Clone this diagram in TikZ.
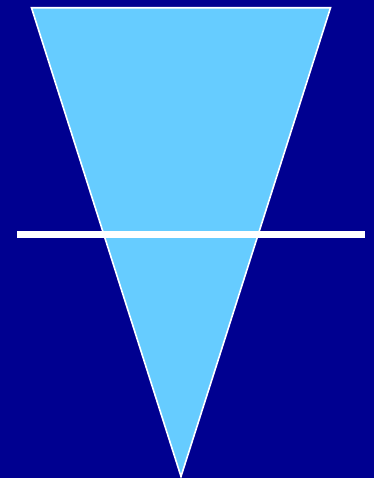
\documentclass[tikz,border=0pt]{standalone}
\usepackage{tikz}
\definecolor{deepblue}{HTML}{000090}
\definecolor{skyfill}{HTML}{66CCFF}

\begin{document}
\begin{tikzpicture}[x=1pt,y=-1pt]
% background
\fill[deepblue] (0,0) rectangle (374,478);
\useasboundingbox (0,0) rectangle (374,478);
% inverted triangle
\coordinate (topleft) at (31.5,7.8);
\coordinate (topright) at (330.5,7.8);
\coordinate (apex) at (181,476.5);
\draw[white,fill=skyfill,line width=1.6pt,line join=miter] (topleft) -- (topright) -- (apex) -- cycle;
% cut line
\coordinate (cutleft) at (17,234.5);
\coordinate (cutright) at (365,234.5);
\draw[white,line width=7pt] (cutleft) -- (cutright);
\end{tikzpicture}
\end{document}
